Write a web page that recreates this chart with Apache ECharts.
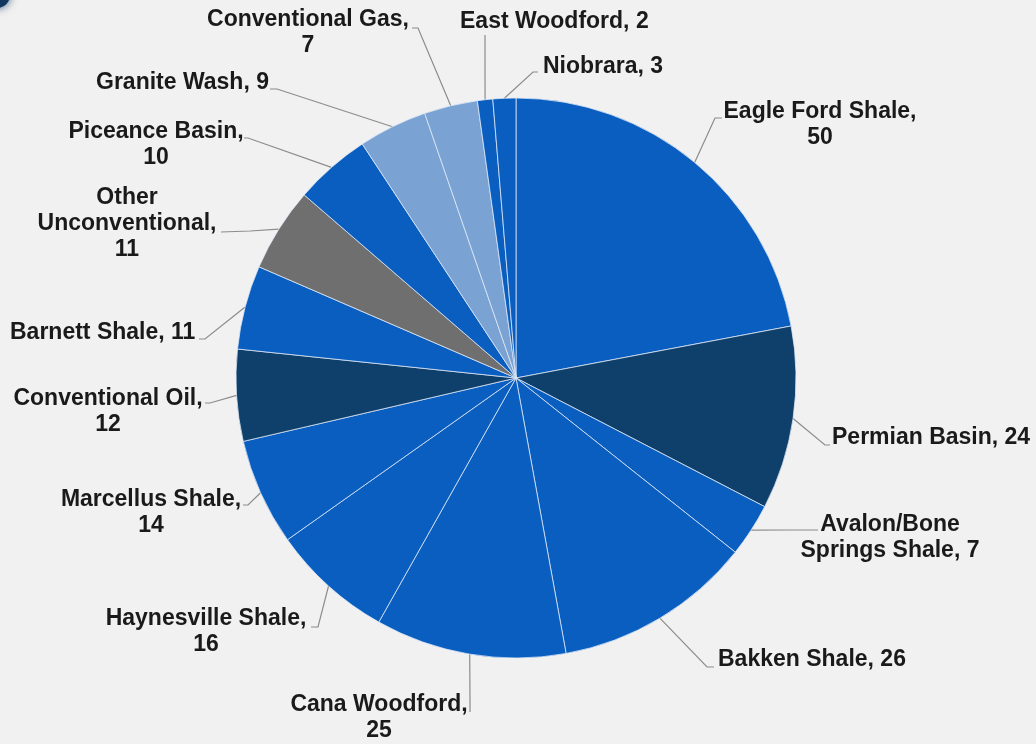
<!DOCTYPE html>
<html>
<head>
<meta charset="utf-8">
<script src="https://cdn.jsdelivr.net/npm/echarts@6/dist/echarts.min.js"></script>
<style>
  html, body { margin: 0; padding: 0; background: #f1f1f1; }
  #chart { width: 1036px; height: 744px; }
</style>
</head>
<body>
<div id="chart"></div>
<script>
// Rig count by play (clockwise from 12 o'clock)
const playNames = [
  'Eagle Ford Shale', 'Permian Basin', 'Avalon/Bone\nSprings Shale', 'Bakken Shale',
  'Cana Woodford', 'Haynesville Shale', 'Marcellus Shale', 'Conventional Oil',
  'Barnett Shale', 'Other\nUnconventional', 'Piceance Basin', 'Granite Wash',
  'Conventional Gas', 'East Woodford', 'Niobrara'
];
const rigCounts = [50, 24, 7, 26, 25, 16, 14, 12, 11, 11, 10, 9, 7, 2, 3];
// whether the value sits on its own line under the name
const valueOnNewLine = [true, false, false, false, true, true, true, true, false, true, true, false, true, false, false];

// slice fills
const BLUE = '#0a5ec0', NAVY = '#0f3f6b', GREY = '#6f6f6f', LIGHT = '#7aa3d3';
const sliceColors = [BLUE, NAVY, BLUE, BLUE, BLUE, BLUE, BLUE, NAVY, BLUE, GREY, BLUE, LIGHT, LIGHT, BLUE, BLUE];

// label anchors [x, y, align] and leader-line bend/end points
const labelSpots = [
  [820, 125, 'center'], [832, 438, 'left'], [890, 538, 'center'], [718, 660, 'left'],
  [379, 718, 'center'], [206, 632, 'center'], [151, 513, 'center'], [108, 412, 'center'],
  [10, 333, 'left'], [127, 224, 'center'], [156, 145, 'center'], [96, 83, 'left'],
  [308, 33, 'center'], [460, 22, 'left'], [543, 67, 'left']
];
const leaderBends = [
  [[715, 118], [722, 118]], [[825, 445], [830, 445]], [[790, 530], [818, 530]], [[707, 667], [714, 667]],
  [[470, 700], [470, 712]], [[318, 627], [311, 627]], [[248, 505], [243, 505]], [[210, 403], [205, 403]],
  [[205, 339], [199, 339]], [[250, 231], [221, 232]], [[248, 138], [244, 138]], [[277, 89], [270, 89]],
  [[418, 28], [412, 28]], [[485, 60], [485, 35]], [[533, 72], [538, 72]]
];

const pieData = playNames.map((name, i) => ({
  name: name,
  value: rigCounts[i],
  itemStyle: { color: sliceColors[i] }
}));

const chart = echarts.init(document.getElementById('chart'), null, { renderer: 'canvas' });

chart.setOption({
  backgroundColor: '#f1f1f1',
  animation: false,
  graphic: [{
    type: 'circle',
    shape: { cx: -3, cy: -5, r: 13 },
    style: { fill: '#10355f', shadowBlur: 8, shadowColor: 'rgba(16,53,95,0.8)' },
    silent: true
  }],
  series: [{
    type: 'pie',
    center: [516, 378],
    radius: 280,
    startAngle: 90,
    clockwise: true,
    avoidLabelOverlap: false,
    data: pieData,
    itemStyle: { borderColor: 'rgba(225,235,248,0.75)', borderWidth: 1 },
    label: {
      show: true,
      position: 'outside',
      formatter: p => p.name + ',' + (valueOnNewLine[p.dataIndex] ? '\n' : ' ') + p.value,
      fontFamily: 'Liberation Sans, Arial, sans-serif',
      fontWeight: 'bold',
      fontSize: 23,
      lineHeight: 26,
      color: '#1a1a1a'
    },
    labelLine: {
      show: true,
      length: 20,
      length2: 8,
      lineStyle: { color: '#8c8c8c', width: 1.2 }
    },
    labelLayout: function (params) {
      const i = params.dataIndex;
      const spot = labelSpots[i];
      const start = params.labelLinePoints ? params.labelLinePoints[0] : leaderBends[i][0];
      return {
        x: spot[0],
        y: spot[1],
        align: spot[2],
        verticalAlign: 'middle',
        labelLinePoints: [start, leaderBends[i][0], leaderBends[i][1]]
      };
    },
    emphasis: { disabled: true }
  }]
});
</script>
</body>
</html>
